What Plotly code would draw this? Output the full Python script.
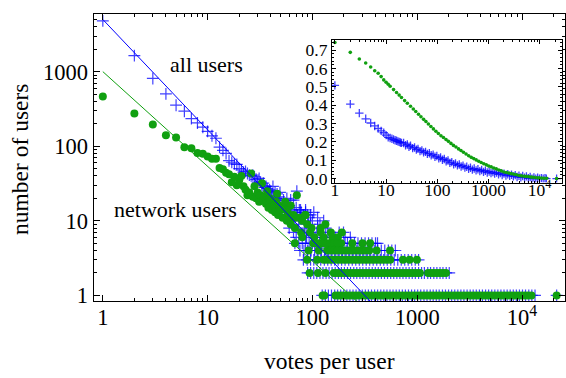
import plotly.graph_objects as go

# ---------------- main panel data (votes per user histogram) ----------------
ALL_HEAD_X = [1, 2, 3, 4, 5, 6, 7, 8, 9, 10, 11, 12, 13, 14, 15, 16, 17, 18, 19, 20,
              21, 22, 23, 24, 25, 26, 27, 28, 29, 30, 31, 32, 33, 34, 35, 36, 37, 38, 39, 40,
              41, 42, 43, 44, 45, 46, 47, 48, 49, 50]
ALL_HEAD_Y = [4790, 1640, 810, 504, 355, 295, 235, 205, 180, 158, 138, 128, 97, 88, 80, 64, 61, 58, 57, 50,
              48, 45, 46, 43, 41, 40, 41, 39, 36, 33, 37, 33, 30, 32, 28, 29, 27, 25, 26, 25,
              22, 29, 21, 24, 20, 23, 19, 21, 24, 17]
ALL_SCATTER_X = [52, 53, 55, 56, 57, 58, 60, 61, 62, 64, 65, 66, 67, 70, 71, 72, 75, 77, 78, 82,
                 86, 92, 96, 103, 112, 86, 77, 90]
ALL_SCATTER_Y = [15, 19, 17, 14, 20, 13, 16, 12, 19, 14, 11, 19, 13, 15, 25, 12, 14, 11, 13, 12,
                 13, 11, 12, 13, 11, 14, 14, 12]
ALL_ROW_10 = [68, 100, 128]
ALL_ROW_9 = [74, 96, 118]
ALL_ROW_8 = [60, 84, 112, 134]
ALL_ROW_7 = [66, 87, 110, 140, 180, 198]
ALL_ROW_6 = [70, 88, 106, 126, 150, 165, 205, 230]
ALL_ROW_5 = [68, 74, 80, 86, 93, 100, 108, 117, 126, 136, 147, 159, 172, 185, 200, 216, 233, 252,
             272, 294, 318, 343, 370, 400, 418]
ALL_ROW_4 = [76, 83, 90, 97, 105, 113, 122, 132, 143, 154, 167, 180, 194, 210, 227, 245, 265, 286,
             309, 334, 360, 389, 420, 454, 490, 530, 572, 618]
ALL_ROW_3 = [82, 89, 96, 103, 111, 120, 130, 140, 151, 163, 176, 190, 205, 222, 240, 259, 280, 302,
             326, 352, 380, 411, 444, 479, 517, 559, 603, 652, 704, 760, 820, 886, 957, 1030]
ALL_ROW_2 = [90, 96, 103, 110, 118, 126, 135, 144, 154, 165, 177, 189, 202, 216, 231, 248, 265, 284,
             303, 325, 347, 372, 398, 425, 455, 487, 521, 558, 597, 639, 683, 731, 782, 837, 896,
             959, 1030, 1100, 1170, 1260, 1340, 1440, 1540, 1650, 1760, 1890, 2020]
ALL_ROW_1 = [124, 133, 142, 152, 163, 174, 186, 199, 213, 228, 244, 261, 279, 299, 320, 342, 366,
             392, 419, 449, 480, 514, 550, 588, 630, 674, 721, 771, 825, 883, 945, 1010, 1080, 1160,
             1240, 1330, 1420, 1520, 1620, 1740, 1860, 1990, 2130, 2280, 2440, 2610, 2790, 2990,
             3200, 3420, 3660, 3920, 4190, 4490, 4800, 5140, 5500, 5880, 6290, 6730, 7210, 7710,
             8250, 8830, 9450, 10100, 10800, 11600, 12400, 13300, 21400]

NET_HEAD_X = ALL_HEAD_X
NET_HEAD_Y = [465, 275, 195, 140, 131, 97, 94, 81, 79, 73, 68, 68, 51, 49, 44, 42, 33, 39, 30, 35,
              40, 29, 26, 22, 24, 43, 21, 29, 20, 24, 18, 22, 32, 19, 21, 17, 25, 15, 20, 19,
              14, 17, 16, 13, 18, 23, 12, 16, 15, 14]
NET_SCATTER_X = [52, 53, 55, 58, 60, 64, 66, 68, 71, 75, 85, 86, 62, 57]
NET_SCATTER_Y = [11, 15, 18, 13, 12, 11, 12, 11, 22, 11, 12, 12, 16, 14]
NET_ROW_10 = [57, 80]
NET_ROW_9 = [62, 89, 133]
NET_ROW_8 = [68, 98, 120]
NET_ROW_7 = [78, 95, 120, 150, 191]
NET_ROW_6 = [80, 104, 128, 155, 175]
NET_ROW_5 = [68, 102, 110, 119, 128, 138, 149, 161, 174, 188, 240, 300, 355]
NET_ROW_4 = [92, 115, 138, 149, 161, 174, 188, 203, 219, 237, 256, 276, 298, 322, 348, 410, 550]
NET_ROW_3 = [89, 111, 128, 138, 149, 161, 174, 188, 203, 219, 237, 256, 276, 298, 322, 348, 376,
             406, 438, 473, 511, 552, 731, 845, 993]
NET_ROW_2 = [94, 113, 133, 160, 171, 183, 196, 210, 224, 240, 257, 275, 294, 315, 337, 360, 385,
             412, 441, 472, 505, 540, 578, 618, 661, 708, 757, 810, 867, 928, 993, 1060, 1270,
             1350, 1440, 1540, 1640, 1760, 1880]
NET_ROW_1 = [125, 130, 166, 178, 192, 207, 223, 240, 258, 278, 300, 323, 348, 375, 404, 435, 468,
             504, 543, 585, 630, 678, 730, 786, 847, 912, 982, 1060, 1140, 1230, 1320, 1420, 1530,
             1650, 1780, 1920, 2070, 2230, 2400, 2580, 2780, 3000, 3230, 3480, 3750, 4040, 4350,
             4680, 5040, 5430, 5850, 6300, 6790, 7310, 7870, 8480, 9130, 9830, 10600, 11400,
             12300, 21400]

# power-law fits (amplitude, exponent)
ALL_FIT = (5000, -1.48)
NET_FIT = (1000, -1.27)
FIT_X = [1, 1000]

# ---------------- inset data ----------------
INSET_NET_X = [1, 2, 3, 4, 5, 6, 7, 8, 9, 10, 11, 12, 14, 16, 18, 20, 23, 26, 30, 34, 38, 43, 48,
               54, 60, 67, 75, 84, 94, 105, 118, 132, 148, 165, 185, 207, 232, 260, 290, 325, 365,
               410, 460, 515, 575, 645, 720, 810, 905, 1010, 1130, 1270, 1420, 1590, 1780, 2000,
               2240, 2500, 2800, 3150, 3500, 3950, 4400, 4950, 5500, 6200, 6900, 7700, 8700, 9700,
               10900, 12200, 13700, 21400]
INSET_NET_Y = [0.742, 0.688, 0.652, 0.630, 0.608, 0.588, 0.574, 0.556, 0.538, 0.525, 0.514, 0.503,
               0.485, 0.469, 0.455, 0.442, 0.425, 0.411, 0.394, 0.379, 0.366, 0.351, 0.337, 0.323,
               0.311, 0.298, 0.284, 0.271, 0.258, 0.246, 0.234, 0.224, 0.213, 0.203, 0.192, 0.181,
               0.172, 0.162, 0.153, 0.144, 0.134, 0.125, 0.116, 0.109, 0.102, 0.095, 0.088, 0.081,
               0.075, 0.069, 0.064, 0.058, 0.053, 0.047, 0.042, 0.036, 0.033, 0.030, 0.027, 0.024,
               0.021, 0.017, 0.015, 0.013, 0.012, 0.010, 0.008, 0.007, 0.005, 0.004, 0.003, 0.002,
               0.002, 0.000]
INSET_ALL_X = [1, 2, 3, 4, 5, 6, 7, 8, 9, 10, 11, 12, 13, 14, 15, 16, 17, 18, 19, 20,
               22, 24, 26, 28, 30, 33, 36, 39, 42, 46, 50, 54, 59, 64, 70, 76, 83, 90, 98,
               107, 116, 126, 137, 149, 162, 176, 192, 209, 227, 247, 269, 292, 318, 346, 376, 409, 445,
               484, 526, 572, 622, 677, 736, 800, 870, 946, 1030, 1120, 1220, 1320, 1440, 1570, 1700, 1850,
               2010, 2190, 2380, 2590, 2820, 3060, 3330, 3620, 3940, 4290, 4660, 5070, 5510, 6000, 6520,
               7090, 7710, 8390, 9120, 9920, 10800, 11700, 12700, 13500, 21400]
INSET_ALL_Y = [0.508, 0.406, 0.357, 0.326, 0.303, 0.287, 0.273, 0.260, 0.250, 0.237, 0.225, 0.221,
               0.217, 0.213, 0.209, 0.206, 0.203, 0.200, 0.197, 0.195,
               0.194, 0.182, 0.186, 0.174, 0.179, 0.166, 0.170, 0.158, 0.162, 0.150,
               0.154, 0.143, 0.146, 0.135, 0.138, 0.127, 0.131, 0.119, 0.123,
               0.111, 0.115, 0.103, 0.107, 0.095, 0.099, 0.086, 0.090, 0.078,
               0.083, 0.072, 0.077, 0.066, 0.071, 0.060, 0.065, 0.054, 0.059,
               0.049, 0.055, 0.045, 0.051, 0.041, 0.047, 0.037, 0.043, 0.033,
               0.039, 0.030, 0.036, 0.027, 0.033, 0.023, 0.030, 0.020,
               0.027, 0.017, 0.024, 0.015, 0.021, 0.012, 0.019, 0.009, 0.016,
               0.007, 0.014, 0.005, 0.012, 0.002, 0.009,
               0.000, 0.007, 0.000, 0.005, 0.000, 0.003, 0.000, 0.002, 0.000, 0.000]

MAIN_TICKS = [1, 10, 100, 1000, 10000]
MAIN_TICKTEXT = ["1", "10", "100", "1000", "10<sup>4</sup>"]
Y_TICKS = [1, 10, 100, 1000]
Y_TICKTEXT = ["1", "10", "100", "1000"]

# ---------------- assemble ----------------
def rows(pairs):
    xs, ys = [], []
    for yv, xl in pairs:
        xs += xl
        ys += [yv] * len(xl)
    return xs, ys

ax_r, ay_r = rows([(10, ALL_ROW_10), (9, ALL_ROW_9), (8, ALL_ROW_8), (7, ALL_ROW_7), (6, ALL_ROW_6),
                   (5, ALL_ROW_5), (4, ALL_ROW_4), (3, ALL_ROW_3), (2, ALL_ROW_2), (1, ALL_ROW_1)])
nx_r, ny_r = rows([(10, NET_ROW_10), (9, NET_ROW_9), (8, NET_ROW_8), (7, NET_ROW_7), (6, NET_ROW_6),
                   (5, NET_ROW_5), (4, NET_ROW_4), (3, NET_ROW_3), (2, NET_ROW_2), (1, NET_ROW_1)])
all_x = ALL_HEAD_X + ALL_SCATTER_X + ax_r
all_y = ALL_HEAD_Y + ALL_SCATTER_Y + ay_r
net_x = NET_HEAD_X + NET_SCATTER_X + nx_r
net_y = NET_HEAD_Y + NET_SCATTER_Y + ny_r

W, H = 566, 378
BLUE = "rgba(0,0,255,0.75)"
BLUE_LINE = "rgb(0,0,255)"
GREEN = "rgb(16,160,16)"
FONT = "Liberation Serif, Times New Roman, serif"

def fx(px):
    return px / W

def fy(py):
    return 1 - py / H

fig = go.Figure()
fig.add_trace(go.Scatter(x=all_x, y=all_y, mode="markers", xaxis="x", yaxis="y",
                         marker=dict(symbol="cross-thin", size=8.5, line=dict(color=BLUE, width=1.2)),
                         hoverinfo="skip"))
fig.add_trace(go.Scatter(x=net_x, y=net_y, mode="markers", xaxis="x", yaxis="y",
                         marker=dict(symbol="circle", size=8, color=GREEN, line=dict(width=0)),
                         hoverinfo="skip"))
fig.add_trace(go.Scatter(x=FIT_X, y=[ALL_FIT[0] * v ** ALL_FIT[1] for v in FIT_X], mode="lines",
                         xaxis="x", yaxis="y", line=dict(color=BLUE_LINE, width=1), hoverinfo="skip"))
fig.add_trace(go.Scatter(x=FIT_X, y=[NET_FIT[0] * v ** NET_FIT[1] for v in FIT_X], mode="lines",
                         xaxis="x", yaxis="y", line=dict(color=GREEN, width=1), hoverinfo="skip"))

# inset
fig.add_trace(go.Scatter(x=INSET_ALL_X, y=INSET_ALL_Y, mode="markers", xaxis="x2", yaxis="y2",
                         marker=dict(symbol="cross-thin", size=6, line=dict(color=BLUE, width=1.3)),
                         hoverinfo="skip"))
fig.add_trace(go.Scatter(x=INSET_NET_X, y=INSET_NET_Y, mode="markers", xaxis="x2", yaxis="y2",
                         marker=dict(symbol="circle", size=3.6, color=GREEN, line=dict(width=0)),
                         hoverinfo="skip"))

minor_main_x = [m * 10 ** d for d in range(0, 5) for m in range(2, 10)]
minor_main_y = [m * 10 ** d for d in range(0, 4) for m in range(2, 10)]

axis_common = dict(showline=True, linecolor="black", linewidth=1, mirror="allticks",
                   ticks="inside", tickcolor="black", showgrid=False, zeroline=False,
                   tickfont=dict(family=FONT, size=22.5, color="black"))

fig.update_layout(
    width=W, height=H, margin=dict(l=0, r=0, t=0, b=0),
    paper_bgcolor="white", plot_bgcolor="white", showlegend=False,
    font=dict(family=FONT, color="black"),
    xaxis=dict(type="log", range=[-0.0886, 4.41], domain=[fx(92.7), fx(565)], anchor="y",
               tickmode="array", tickvals=MAIN_TICKS, ticktext=MAIN_TICKTEXT, ticklen=6,
               ticklabelstandoff=-4,
               minor=dict(tickmode="array", tickvals=minor_main_x, ticks="inside", ticklen=3,
                          tickcolor="black", showgrid=False),
               **axis_common),
    yaxis=dict(type="log", range=[-0.079, 3.776], domain=[fy(307), fy(14)], anchor="x",
               tickmode="array", tickvals=Y_TICKS, ticktext=Y_TICKTEXT, ticklen=6,
               minor=dict(tickmode="array", tickvals=minor_main_y, ticks="inside", ticklen=3,
                          tickcolor="black", showgrid=False),
               **axis_common),
    xaxis2=dict(type="log", range=[-0.058, 4.436], domain=[fx(331.5), fx(562)], anchor="y2",
                tickmode="array", tickvals=MAIN_TICKS, ticktext=MAIN_TICKTEXT, ticklen=4,
                ticklabelstandoff=-9,
                minor=dict(tickmode="array", tickvals=minor_main_x, ticks="inside", ticklen=2,
                           tickcolor="black", showgrid=False),
                showline=True, linecolor="black", linewidth=1, mirror="allticks",
                ticks="inside", tickcolor="black", showgrid=False, zeroline=False,
                tickfont=dict(family=FONT, size=17.5, color="black")),
    yaxis2=dict(range=[-0.0214, 0.754], domain=[fy(186), fy(41)], anchor="x2",
                tickmode="linear", tick0=0, dtick=0.1, tickformat=".1f", ticklen=4,
                minor=dict(dtick=0.02, ticks="inside", ticklen=2, tickcolor="black", showgrid=False),
                showline=True, linecolor="black", linewidth=1, mirror="allticks",
                ticks="inside", tickcolor="black", showgrid=False, zeroline=False,
                tickfont=dict(family=FONT, size=17.5, color="black")),
)

ann_font = dict(family=FONT, size=22, color="black")
title_font = dict(family=FONT, size=23.5, color="black")
fig.add_annotation(text="all users", x=fx(206), y=fy(66), xref="paper", yref="paper",
                   showarrow=False, font=ann_font, xanchor="center", yanchor="middle")
fig.add_annotation(text="network users", x=fx(175), y=fy(213), xref="paper", yref="paper",
                   showarrow=False, font=ann_font, xanchor="center", yanchor="middle")
fig.add_annotation(text="votes per user", x=fx(329), y=fy(368), xref="paper", yref="paper",
                   showarrow=False, font=title_font, xanchor="center", yanchor="middle")
fig.add_annotation(text="number of users", x=fx(19), y=fy(162), xref="paper", yref="paper",
                   showarrow=False, font=title_font, xanchor="center", yanchor="middle", textangle=-90)

fig.write_html("out.html")
